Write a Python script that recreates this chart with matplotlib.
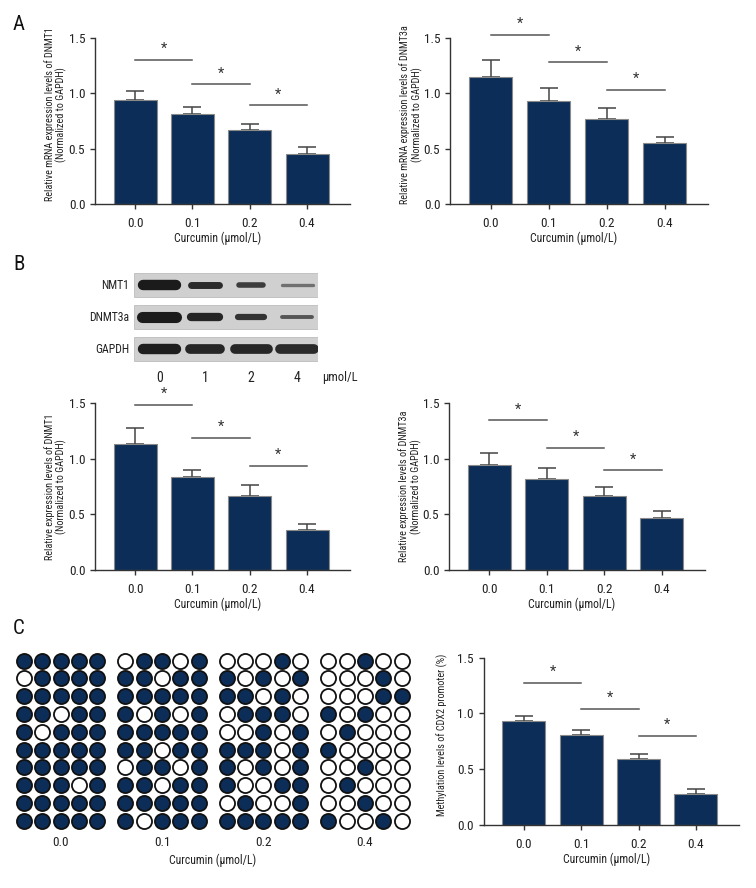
import numpy as np
import matplotlib
matplotlib.use('Agg')
import matplotlib.pyplot as plt
from matplotlib.patches import Rectangle

plt.rcParams['font.family'] = ['DejaVu Sans Condensed', 'Liberation Sans Narrow',
                               'Roboto Condensed', 'Roboto', 'DejaVu Sans']

W, H = 756, 888
NAVY = '#0c2d57'

doses = ['0.0', '0.1', '0.2', '0.4']

# A: mRNA levels
mrna_dnmt1 = [0.94, 0.81, 0.665, 0.455]
mrna_dnmt1_err = [0.08, 0.065, 0.055, 0.065]
mrna_dnmt1_sig = [1.30, 1.08, 0.89]
mrna_dnmt3a = [1.145, 0.93, 0.77, 0.55]
mrna_dnmt3a_err = [0.155, 0.115, 0.10, 0.06]
mrna_dnmt3a_sig = [1.525, 1.277, 1.028]

# B: protein levels
prot_dnmt1 = [1.134, 0.834, 0.668, 0.36]
prot_dnmt1_err = [0.146, 0.066, 0.097, 0.057]
prot_dnmt1_sig = [1.485, 1.19, 0.94]
prot_dnmt3a = [0.948, 0.819, 0.663, 0.471]
prot_dnmt3a_err = [0.108, 0.099, 0.084, 0.063]
prot_dnmt3a_sig = [1.346, 1.10, 0.897]

# B: western blot
blot_rows = ['NMT1', 'DNMT3a', 'GAPDH']
blot_lanes = ['0', '1', '2', '4']
band_thick = [[7.5, 5.0, 4.0, 2.4],
              [8.0, 6.0, 4.5, 2.8],
              [7.5, 7.0, 7.0, 7.0]]
band_width = [[0.72, 0.6, 0.52, 0.68],
              [0.74, 0.6, 0.55, 0.64],
              [0.72, 0.66, 0.72, 0.74]]
band_shade = [['#1b1b1b', '#2b2b2b', '#3c3c3c', '#707070'],
              ['#1b1b1b', '#252525', '#333333', '#555555'],
              ['#1e1e1e', '#262626', '#262626', '#2a2a2a']]

# C: methylation
methyl = [0.933, 0.807, 0.595, 0.278]
methyl_err = [0.042, 0.048, 0.039, 0.042]
methyl_sig = [1.274, 1.038, 0.80]

# C: bisulfite clones, 1 = methylated CpG
clones = {
    '0.0': ['11111', '01111', '11111', '11011', '10111',
            '11111', '11111', '11101', '11111', '11111'],
    '0.1': ['01101', '11011', '11111', '10101', '11111',
            '11011', '01101', '11011', '11111', '10111'],
    '0.2': ['00010', '10101', '11010', '01110', '00101',
            '11101', '10101', '10011', '01001', '11111'],
    '0.4': ['00100', '00010', '00011', '10100', '01000',
            '10000', '00100', '01000', '00100', '10010'],
}

fig = plt.figure(figsize=(W / 100, H / 100), dpi=100)


def px_axes(x0, x1, ytop, ybot):
    return fig.add_axes([x0 / W, 1 - ybot / H, (x1 - x0) / W, (ybot - ytop) / H])


def bar_panel(box, vals, errs, sig, ylabel, lab_x, lab_y):
    ax = px_axes(*box)
    pos = np.arange(len(doses))
    ax.errorbar(pos, vals, yerr=[np.zeros(len(vals)), errs], fmt='none',
                ecolor='#444444', elinewidth=1.1, capsize=6.5, capthick=1.1, zorder=1)
    ax.bar(pos, vals, width=0.75, color=NAVY, edgecolor='#8a8a8a', linewidth=0.8, zorder=2)
    for i, h in enumerate(sig):
        ax.plot([pos[i], pos[i + 1]], [h, h], color='#555555', lw=1.1, clip_on=False)
        ax.text(pos[i] + 0.5, h + 0.035, '*', ha='center', va='bottom',
                fontsize=10.5, color='#333333')
    ax.set_xlim(-0.7, 3.75)
    ax.set_ylim(0, 1.5)
    ax.set_yticks([0, 0.5, 1.0, 1.5])
    ax.set_yticklabels(['0.0', '0.5', '1.0', '1.5'])
    ax.set_xticks(pos)
    ax.set_xticklabels(doses)
    for s in ['top', 'right']:
        ax.spines[s].set_visible(False)
    for s in ['left', 'bottom']:
        ax.spines[s].set_color('#333333')
        ax.spines[s].set_linewidth(1.0)
    ax.tick_params(direction='out', length=3.5, width=1.0, color='#333333',
                   labelsize=9.5, labelcolor='#222222')
    ax.tick_params(axis='x', pad=6)
    ax.set_ylabel(ylabel, fontsize=7.3, color='#222222', linespacing=1.1)
    ax.yaxis.set_label_coords(lab_x, lab_y)
    ax.set_xlabel('Curcumin (\u03bcmol/L)', fontsize=8.5, color='#222222')
    ax.xaxis.set_label_coords(0.48, -0.165)
    return ax


bar_panel((95, 350, 37.7, 204.3), mrna_dnmt1, mrna_dnmt1_err, mrna_dnmt1_sig,
          'Relative mRNA expression levels of DNMT1\n(Normalized to GAPDH)', -0.11, 0.54)
bar_panel((450, 708, 37.7, 204.3), mrna_dnmt3a, mrna_dnmt3a_err, mrna_dnmt3a_sig,
          'Relative mRNA expression levels of DNMT3a\n(Normalized to GAPDH)', -0.106, 0.54)
bar_panel((95, 350, 403.3, 570), prot_dnmt1, prot_dnmt1_err, prot_dnmt1_sig,
          'Relative expression levels of DNMT1\n(Normalized to GAPDH)', -0.11, 0.5)
bar_panel((449, 705, 403.3, 570), prot_dnmt3a, prot_dnmt3a_err, prot_dnmt3a_sig,
          'Relative expression levels of DNMT3a\n(Normalized to GAPDH)', -0.106, 0.5)
bar_panel((483.7, 739, 657.7, 825), methyl, methyl_err, methyl_sig,
          'Methylation levels of CDX2 promoter (%)', -0.14, 0.54)

# western blot
bx = px_axes(134.3, 318.3, 269.3, 365.2)
bx.set_xlim(-0.54, 3.46)
bx.set_ylim(2.5, -0.5)
bx.axis('off')
for r, name in enumerate(blot_rows):
    bx.add_patch(Rectangle((-0.54, r - 0.375), 4.0, 0.75, facecolor='#d0d0d0',
                           edgecolor='#bdbdbd', lw=0.6, zorder=0))
    for l in range(len(blot_lanes)):
        w = band_width[r][l]
        bx.plot([l - w / 2, l + w / 2], [r, r], lw=band_thick[r][l],
                color=band_shade[r][l], solid_capstyle='round', zorder=1)
    bx.text(-0.65, r, name, ha='right', va='center', fontsize=8.5, color='#222222',
            clip_on=False)
for l, lab in enumerate(blot_lanes):
    bx.text(l, 2.9, lab, ha='center', va='center', fontsize=10, color='#222222',
            clip_on=False)
bx.text(3.54, 2.9, '\u03bcmol/L', ha='left', va='center', fontsize=9,
        color='#222222', clip_on=False)

# bisulfite sequencing clones
cx = px_axes(5.7, 419.8, 642.9, 838.5)
gap = 5.55
cx.set_xlim(-1, 3 * gap + 5)
cx.set_ylim(10, -1)
cx.axis('off')
xs, ys, filled = [], [], []
for g, dose in enumerate(clones):
    for r, row in enumerate(clones[dose]):
        for c, ch in enumerate(row):
            xs.append(g * gap + c)
            ys.append(r)
            filled.append(ch == '1')
xs, ys, filled = np.array(xs), np.array(ys), np.array(filled)
cx.scatter(xs[filled], ys[filled], s=118, c=NAVY, edgecolors='#111111',
           linewidths=1.3, clip_on=False)
cx.scatter(xs[~filled], ys[~filled], s=118, c='white', edgecolors='#111111',
           linewidths=1.3, clip_on=False)
for g, dose in enumerate(clones):
    cx.text(g * gap + 2, 10.25, dose, ha='center', va='center', fontsize=9.5,
            color='#222222', clip_on=False)
cx.text((3 * gap + 4) / 2, 11.2, 'Curcumin (\u03bcmol/L)', ha='center', va='center',
        fontsize=8.5, color='#222222', clip_on=False)

# panel letters
for letter, ytop in [('A', 15), ('B', 255), ('C', 619)]:
    fig.text(13 / W, 1 - ytop / H, letter, ha='left', va='top', fontsize=15,
             color='#111111')

fig.savefig('out.png', dpi=100)
